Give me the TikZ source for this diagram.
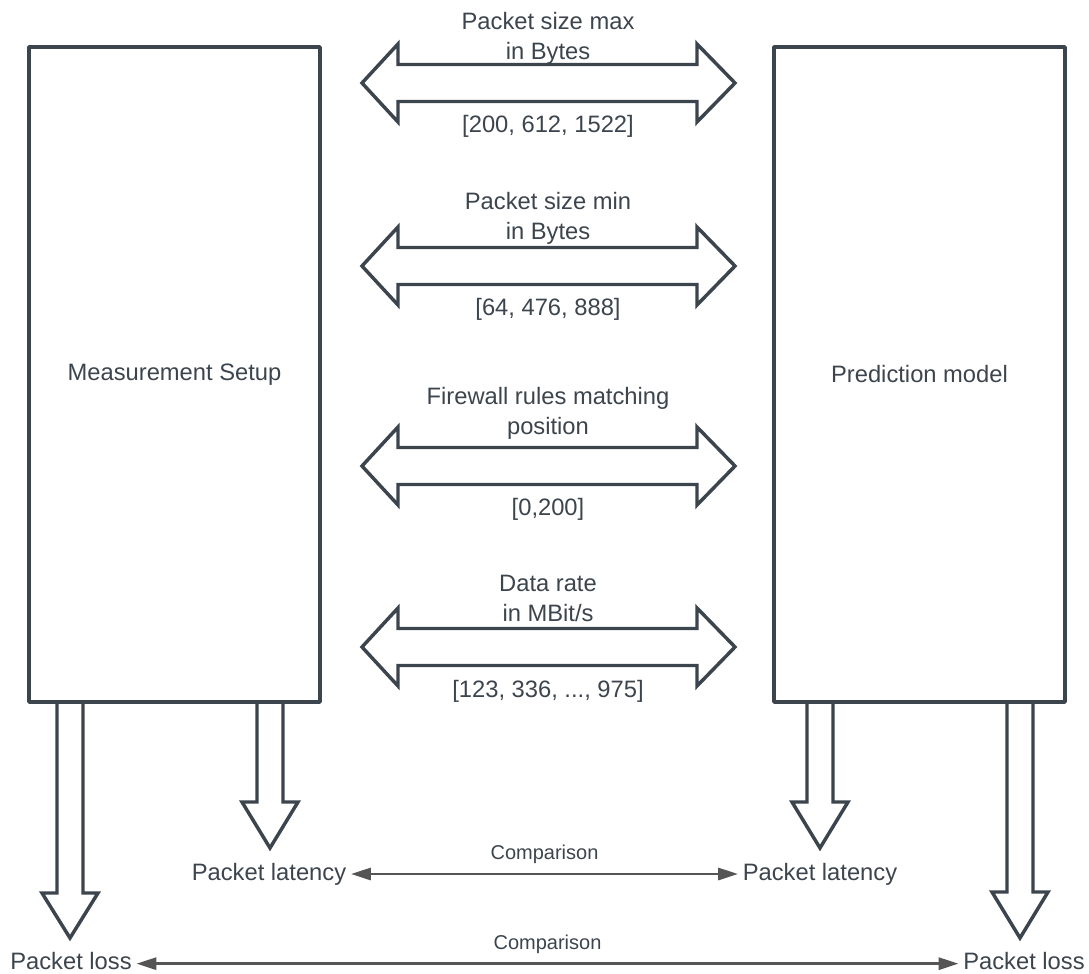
\documentclass[tikz,border=0pt]{standalone}
\usepackage{fontspec}
\setmainfont{Liberation Sans}
\usetikzlibrary{arrows.meta}
\definecolor{slate}{HTML}{3C444D}
\definecolor{cmpgray}{HTML}{555555}

\begin{document}
\begin{tikzpicture}[x=0.75pt,y=-0.75pt,line cap=round,line join=round,
  box/.style={draw=slate,line width=2.6pt,minimum width=218.25pt,minimum height=491.25pt,
    text=slate,font=\fontsize{17.8}{22.5}\selectfont},
  lbl/.style={text=slate,align=center,font=\fontsize{17.8}{22.5}\selectfont},
  blk/.style={draw=slate,line width=2.6pt,line join=miter},
  cmp/.style={draw=cmpgray,line width=2.2pt,
    {Triangle[length=15pt,width=9pt]}-{Triangle[length=15pt,width=9pt]}},
  cmplbl/.style={text=slate,font=\fontsize{15}{18}\selectfont}]
\useasboundingbox (0,0) rectangle (1089,974);

% setup and model
\node[box] (meas) at (174.5,374.5) {Measurement Setup};
\node[box] (pred) at (919.5,374.5) {Prediction model};

% input parameters, one double arrow each
\foreach \yc in {83,266,466,647}
  \draw[blk] (362,\yc) -- (398,\yc-39) -- (398,\yc-18.5) -- (697,\yc-18.5) -- (697,\yc-39)
    -- (735,\yc) -- (697,\yc+39) -- (697,\yc+18.5) -- (398,\yc+18.5) -- (398,\yc+39) -- cycle;

\node[lbl] (pmax) at (548,38.5) {Packet size max\\in Bytes};
\node[lbl] (pmaxv) at (548,126) {[200, 612, 1522]};
\node[lbl] (pmin) at (548,218.5) {Packet size min\\in Bytes};
\node[lbl] (pminv) at (548,309) {[64, 476, 888]};
\node[lbl] (fw) at (548,413) {Firewall rules matching\\position};
\node[lbl] (fwv) at (548,509) {[0,200]};
\node[lbl] (rate) at (548,598) {Data rate\\in MBit/s};
\node[lbl] (ratev) at (548,691) {[123, 336, ..., 975]};

% outputs
\foreach \xc/\yh/\yt in {70/893/938,270/802/848,820/802/848,1020/892/938}
  \draw[blk] (\xc-13,702) -- (\xc-13,\yh) -- (\xc-28,\yh) -- (\xc,\yt)
    -- (\xc+28,\yh) -- (\xc+13,\yh) -- (\xc+13,702);

\node[lbl] (latm) at (269,874) {Packet latency};
\node[lbl] (latp) at (820,874) {Packet latency};
\node[lbl] (lossm) at (71,961) {Packet loss};
\node[lbl] (lossp) at (1024,961) {Packet loss};

\draw[cmp] (latm) -- (latp) node[cmplbl,midway,above=3pt] {Comparison};
\draw[cmp] ([yshift=-2pt]lossm.east) -- ([yshift=-2pt]lossp.west) node[cmplbl,midway,above=3pt] {Comparison};
\end{tikzpicture}
\end{document}
